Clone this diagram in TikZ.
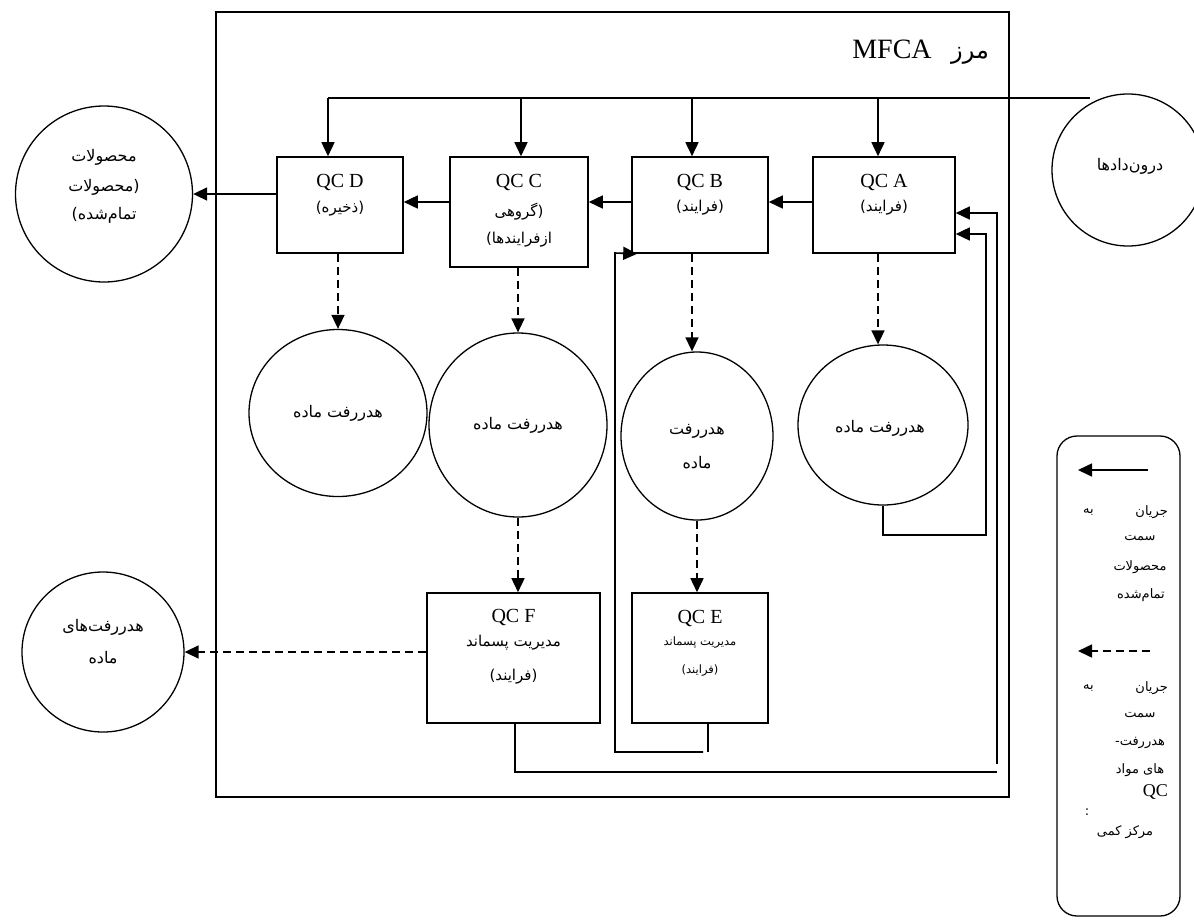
\documentclass[tikz,border=0pt]{standalone}
\usepackage{fontspec}
\setmainfont{Liberation Serif}
\newfontfamily\fa[Script=Arabic]{DejaVu Sans}
\TeXXeTstate=1
\usetikzlibrary{arrows.meta,shapes.geometric}

\tikzset{
  qcbox/.style={draw, line width=1.6pt, inner sep=0pt},
  ring/.style={draw, ellipse, line width=1.3pt, inner sep=0pt},
  flow/.style={line width=1.6pt, -{Triangle[length=14pt,width=13pt]}},
  lossflow/.style={flow, dash pattern=on 8pt off 5pt},
  plain/.style={line width=1.6pt},
  lat/.style={font=\fontsize{20}{22}\selectfont, inner sep=0pt},
  per/.style={font=\fa\fontsize{16}{18}\selectfont, inner sep=0pt},
  perbox/.style={font=\fa\fontsize{15}{17}\selectfont, inner sep=0pt},
  persm/.style={font=\fa\fontsize{11.5}{13}\selectfont, inner sep=0pt},
  perlg/.style={font=\fa\fontsize{13}{15}\selectfont, inner sep=0pt},
}

\begin{document}
\begin{tikzpicture}[x=1pt,y=-1pt]
\useasboundingbox (0,0) rectangle (1194,919);

% MFCA boundary and its title
\node[draw, line width=1.6pt, minimum width=793pt, minimum height=785pt, inner sep=0pt] (mfca) at (612.5,404.5) {};
\node[font=\fontsize{28}{30}\selectfont, inner sep=0pt, anchor=base] (ttl) at (892,58) {MFCA};
\node[font=\fa\fontsize{24}{26}\selectfont, inner sep=0pt, anchor=base] (ttlfa) at (970,58) {مرز};

% quantity centres
\node[qcbox, minimum width=126pt, minimum height=96pt] (qcd) at (340,205) {};
\node[qcbox, minimum width=138pt, minimum height=110pt] (qcc) at (519,212) {};
\node[qcbox, minimum width=136pt, minimum height=96pt] (qcb) at (700,205) {};
\node[qcbox, minimum width=142pt, minimum height=96pt] (qca) at (884,205) {};
\node[qcbox, minimum width=173pt, minimum height=130pt] (qcf) at (513.5,658) {};
\node[qcbox, minimum width=136pt, minimum height=130pt] (qce) at (700,658) {};

\node[lat] (qcdT) at (340,182) {QC D};
\node[perbox] (qcdS) at (340,209) {(ذخیره)};
\node[lat] (qccT) at (519,182) {QC C};
\node[perbox] (qccS) at (519,212) {(گروهی};
\node[perbox] (qccU) at (519,240) {ازفرایندها)};
\node[lat] (qcbT) at (700,182) {QC B};
\node[perbox] (qcbS) at (700,208) {(فرایند)};
\node[lat] (qcaT) at (884,182) {QC A};
\node[perbox] (qcaS) at (884,208) {(فرایند)};
\node[lat] (qcfT) at (513.5,617) {QC F};
\node[perbox] (qcfS) at (513.5,643) {\beginR مدیریت پسماند\endR};
\node[perbox] (qcfU) at (513.5,677) {(فرایند)};
\node[lat] (qceT) at (700,618) {QC E};
\node[persm] (qceS) at (700,643) {\beginR مدیریت پسماند\endR};
\node[persm] (qceU) at (700,671) {(فرایند)};

% inputs, products and losses
\node[ring, minimum width=152pt, minimum height=152pt] (ind) at (1128,170) {};
\node[per] (indT) at (1130,166) {درون‌دادها};
\node[ring, minimum width=177pt, minimum height=176pt] (prod) at (104,194) {};
\node[per] (prodA) at (104,157) {محصولات};
\node[per] (prodB) at (104,187) {(محصولات};
\node[per] (prodC) at (104,215) {تمام‌شده)};
\node[ring, minimum width=162pt, minimum height=160pt] (losses) at (103,652) {};
\node[per] (lossesA) at (103,627) {هدررفت‌های};
\node[per] (lossesB) at (103,658) {ماده};

\node[ring, minimum width=178pt, minimum height=167pt] (lossD) at (338,413) {};
\node[per] (lossDT) at (338,413) {\beginR هدررفت ماده\endR};
\node[ring, minimum width=178pt, minimum height=184pt] (lossC) at (518,425) {};
\node[per] (lossCT) at (518,425) {\beginR هدررفت ماده\endR};
\node[ring, minimum width=152pt, minimum height=168pt] (lossB) at (697,436) {};
\node[per] (lossBT) at (697,431) {هدررفت};
\node[per] (lossBU) at (697,463) {ماده};
\node[ring, minimum width=170pt, minimum height=160pt] (lossA) at (883,425) {};
\node[per] (lossAT) at (880,428) {\beginR هدررفت ماده\endR};

% input distribution line
\coordinate (tD) at (328,98);
\coordinate (tC) at (521,98);
\coordinate (tB) at (692,98);
\coordinate (tA) at (878,98);
\coordinate (inR) at (1090,98);
\draw[plain] (inR) -- (tD);
\draw[flow] (tD) -- (tD |- qcd.north);
\draw[flow] (tC) -- (tC |- qcc.north);
\draw[flow] (tB) -- (tB |- qcb.north);
\draw[flow] (tA) -- (tA |- qca.north);

% main product flow
\coordinate (row) at (0,202);
\draw[flow] (qca.west |- row) -- (qcb.east |- row);
\draw[flow] (qcb.west |- row) -- (qcc.east |- row);
\draw[flow] (qcc.west |- row) -- (qcd.east |- row);
\draw[flow] (qcd.west |- prod.east) -- (prod.east);

% material loss flows
\draw[lossflow] (qcd.south -| lossD.north) -- (lossD.north);
\draw[lossflow] (qcc.south -| lossC.north) -- (lossC.north);
\draw[lossflow] (lossC.south) -- (lossC.south |- qcf.north);
\draw[lossflow] (qcb.south -| 692,0) -- (692,0 |- lossB.north);
\draw[lossflow] (lossB.south) -- (lossB.south |- qce.north);
\draw[lossflow] (qca.south -| 878,0) -- (878,0 |- lossA.north);
\draw[lossflow] (qcf.west |- losses.east) -- (losses.east);

% return loops
\coordinate (innerX) at (986,0);
\coordinate (outerX) at (997,0);
\draw[flow] (lossA.south) -- (lossA.south |- 0,535) -- (innerX |- 0,535)
  -- (innerX |- 0,234) -- (qca.east |- 0,234);
\draw[plain] (qcf.south -| 515,0) -- (515,772) -- (outerX |- 0,772);
\draw[flow] (outerX |- 0,764) -- (outerX |- 0,213) -- (qca.east |- 0,213);
\draw[plain] (qce.south -| 708,0) -- (708,752);
\draw[flow] (703,752) -- (615,752) -- (615,253) -- ([xshift=6pt]qcb.south west);

% legend
\node[draw, rounded corners=20pt, line width=1.3pt, minimum width=123pt, minimum height=480pt, inner sep=0pt] (legend) at (1118.5,676) {};
\coordinate (l1a) at (1148,470);
\coordinate (l1b) at (1078,470);
\draw[flow] (l1a) -- (l1b);
\node[perlg, anchor=east] (lgA1) at (1168,512) {جریان};
\node[perlg, anchor=west] (lgA2) at (1083,512) {به};
\node[perlg] (lgA3) at (1140,538) {سمت};
\node[perlg] (lgA4) at (1140,567) {محصولات};
\node[perlg] (lgA5) at (1141,595) {تمام‌شده};
\coordinate (l2a) at (1150,651);
\coordinate (l2b) at (1078,651);
\draw[lossflow] (l2a) -- (l2b);
\node[perlg, anchor=east] (lgB1) at (1168,688) {جریان};
\node[perlg, anchor=west] (lgB2) at (1083,688) {به};
\node[perlg] (lgB3) at (1140,715) {سمت};
\node[perlg] (lgB4) at (1140,743) {\beginR هدررفت-\endR};
\node[perlg] (lgB5) at (1140,770) {\beginR های مواد\endR};
\node[font=\fontsize{18}{20}\selectfont, inner sep=0pt, anchor=east] (lgB6) at (1168,792) {QC};
\node[perlg] (lgB7) at (1087,812) {:};
\node[perlg] (lgB8) at (1125,832) {\beginR مرکز کمی\endR};
\end{tikzpicture}
\end{document}
